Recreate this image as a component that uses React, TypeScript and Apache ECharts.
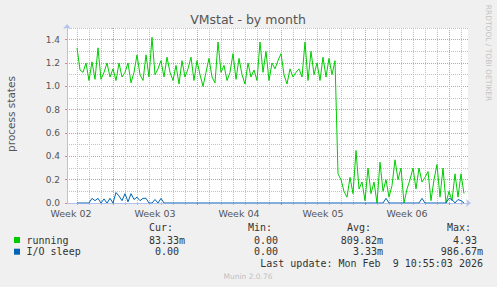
import React, { useEffect, useRef } from 'react';
import * as echarts from 'echarts';

// time axis: days, 0 = start of a week (Monday line)
const startDay = -3;
const stepDay = 0.25;
const xMin = -23 / 6;
const xMax = 355 / 12;

const weekLabels = ['Week 02', 'Week 03', 'Week 04', 'Week 05', 'Week 06'];

const running = [
  1.33, 1.14, 1.12, 1.2, 1.05, 1.21, 1.06, 1.33, 1.06, 1.12,
  1.2, 1.08, 1.15, 1.05, 1.2, 1.08, 1.12, 1.2, 1.03, 1.12,
  1.27, 1.1, 1.05, 1.27, 1.08, 1.42, 1.1, 1.15, 1.22, 1.08,
  1.25, 1.12, 1.05, 1.18, 1.02, 1.22, 1.08, 1.15, 1.25, 1.05,
  1.22, 1.1, 1.0, 1.12, 1.24, 1.08, 1.03, 1.38, 1.12, 1.18,
  1.05, 1.12, 1.28, 1.06, 1.24, 1.1, 1.02, 1.2, 1.08, 1.14,
  1.05, 1.38, 1.12, 1.3, 1.05, 1.2, 1.15, 1.22, 1.28, 1.1,
  1.02, 1.15, 1.08, 1.12, 1.15, 1.08, 1.38, 1.05, 1.3, 1.1,
  1.2, 1.05, 1.25, 1.08, 1.24, 1.1, 1.22, 0.25, 0.2, 0.1,
  0.05, 0.22, 0.08, 0.45, 0.12, 0.18, 0.02, 0.3, 0.08, 0.18,
  0.0, 0.35, 0.1, 0.2, 0.05, 0.15, 0.37, 0.2, 0.3, 0.0,
  0.12, 0.2, 0.3, 0.12, 0.3, 0.18, 0.22, 0.27, 0.02, 0.2,
  0.33, 0.05, 0.3, 0.0, 0.1, 0.02, 0.25, 0.05, 0.25, 0.08,
];

const ioSleep = [
  0, 0, 0, 0, 0, 0.04, 0.02, 0.04, 0, 0.035,
  0, 0.04, 0, 0.09, 0.06, 0.02, 0.08, 0.01, 0.08, 0.03,
  0.05, 0.02, 0.04, 0.04, 0, 0, 0.03, 0, 0.04, 0,
  0, 0, 0, 0, 0, 0, 0, 0, 0, 0,
  0, 0, 0, 0, 0, 0, 0, 0, 0, 0,
  0, 0, 0, 0, 0, 0, 0, 0, 0, 0,
  0, 0, 0, 0, 0, 0, 0, 0, 0, 0,
  0, 0, 0, 0, 0, 0, 0, 0, 0, 0,
  0, 0, 0, 0, 0, 0, 0, 0, 0, 0,
  0, 0, 0, 0, 0, 0, 0, 0, 0, 0,
  0, 0, 0, 0.04, 0, 0, 0, 0, 0, 0,
  0, 0, 0, 0, 0, 0.04, 0, 0, 0, 0,
  0, 0, 0, 0, 0.04, 0.03, 0, 0.03, 0.02, 0,
];

const legendHeaders = ['Cur:', 'Min:', 'Avg:', 'Max:'];
const runningStats = ['83.33m', '0.00', '809.82m', '4.93'];
const ioSleepStats = ['0.00', '0.00', '3.33m', '986.67m'];
const seriesNames = ['running', 'I/O sleep'];
const seriesColors = ['#00cc00', '#0066b3'];
const lastUpdate = 'Last update: Mon Feb  9 10:55:03 2026';

const SANS = '"DejaVu Sans", sans-serif';
const MONO = '"DejaVu Sans Mono", monospace';
const GRAY_GRID = '#c2c2c2';
const RED_GRID = '#e49494';
const AXIS = '#b4c0ee';

function txt(text: string, x: number, y: number, font: string, fill: string, align = 'left', rotation = 0) {
  return {
    type: 'text',
    x,
    y,
    rotation,
    silent: true,
    style: {
      text,
      font,
      fill,
      textAlign: align,
      align,
      textVerticalAlign: 'middle',
      verticalAlign: 'middle',
    },
  };
}

export default function App() {
  const ref = useRef<HTMLDivElement>(null);
  useEffect(() => {
    if (!ref.current) return;
    const chart = echarts.init(ref.current, null, { renderer: 'svg' });
    const toPoints = (arr: number[]) => arr.map((v, i) => [startDay + i * stepDay, v]);
    const colEdges = [179, 278, 377, 477];
    const statTexts: any[] = [];
    const rowsY = [240, 251.7];
    [runningStats, ioSleepStats].forEach((row, r) => {
      row.forEach((v, c) => {
        const hasUnit = /[a-zA-Z]$/.test(v);
        statTexts.push(txt(v, colEdges[c] + (hasUnit ? 6 : 0), rowsY[r], '10px ' + MONO, '#333', 'right'));
      });
      statTexts.push({
        type: 'rect',
        silent: true,
        shape: { x: 14, y: rowsY[r] - 3, width: 6, height: 6 },
        style: { fill: seriesColors[r] },
      });
      statTexts.push(txt(seriesNames[r], 26.5, rowsY[r], '10px ' + MONO, '#333'));
    });
    legendHeaders.forEach((h, c) => {
      statTexts.push(txt(h, colEdges[c] - 6, 227.3, '10px ' + MONO, '#333', 'right'));
    });

    const hiddenY = (gi: number) => ({
      type: 'value', gridIndex: gi, min: 0, max: 1.5, show: false,
    });
    const gridBox = { top: 28, height: 175 };

    chart.setOption({
      animation: false,
      backgroundColor: '#f0f0f0',
      grid: [
        { left: 67, width: 401, ...gridBox, show: true, backgroundColor: '#ffffff', borderWidth: 0 },
        { left: 77, width: 384, ...gridBox },
        { left: 113, width: 336, ...gridBox },
        { left: 71, width: 336, ...gridBox },
      ],
      xAxis: [
        {
          type: 'value', gridIndex: 0, min: xMin, max: xMax,
          axisLine: { show: true, onZero: false, lineStyle: { color: AXIS, width: 1 }, symbol: ['none', 'arrow'], symbolSize: [6, 5], symbolOffset: [0, 3] },
          axisTick: { show: false }, axisLabel: { show: false }, splitLine: { show: false },
        },
        {
          type: 'value', gridIndex: 1, min: 0, max: 32, interval: 1,
          axisLine: { show: false }, axisLabel: { show: false },
          axisTick: { show: true, length: 2, lineStyle: { color: '#bbbbbb' } },
          splitLine: { show: true, lineStyle: { color: GRAY_GRID, type: [1, 1], width: 1 } },
        },
        {
          type: 'value', gridIndex: 2, min: 0, max: 28, interval: 7,
          axisLine: { show: false }, axisLabel: { show: false },
          axisTick: { show: true, length: 2, lineStyle: { color: '#e88080' } },
          splitLine: { show: true, lineStyle: { color: RED_GRID, type: [1, 1], width: 1 } },
        },
        {
          type: 'value', gridIndex: 3, min: 0, max: 28, interval: 7,
          axisLine: { show: false }, axisTick: { show: false }, splitLine: { show: false },
          axisLabel: {
            show: true, margin: 5.5, color: '#555', fontFamily: 'DejaVu Sans', fontSize: 9.5,
            formatter: (v: number) => weekLabels[Math.round(v / 7)] || '',
          },
        },
      ],
      yAxis: [
        {
          type: 'value', gridIndex: 0, position: 'left', min: 0, max: 1.5, interval: 0.1,
          axisLine: { show: false }, axisLabel: { show: false },
          axisTick: { show: true, length: 2, lineStyle: { color: '#bbbbbb' } },
          splitLine: { show: true, lineStyle: { color: GRAY_GRID, type: [1, 1], width: 1 } },
        },
        {
          type: 'value', gridIndex: 0, position: 'left', min: 0, max: 1.5, interval: 0.2,
          axisLine: { show: true, onZero: false, lineStyle: { color: AXIS, width: 1 }, symbol: ['none', 'arrow'], symbolSize: [6, 5], symbolOffset: [0, 4] },
          axisTick: { show: true, length: 2, lineStyle: { color: '#e88080' }, },
          axisLabel: {
            show: true, margin: 7, color: '#555', fontFamily: 'DejaVu Sans', fontSize: 9,
            showMaxLabel: false,
            formatter: (v: number) => v.toFixed(1),
          },
          splitLine: { show: true, showMaxLine: false, lineStyle: { color: RED_GRID, type: [1, 1], width: 1 } },
        },
        hiddenY(1),
        hiddenY(2),
        hiddenY(3),
      ],
      series: [
        {
          name: seriesNames[0], type: 'line', xAxisIndex: 0, yAxisIndex: 1,
          data: toPoints(running), showSymbol: false, symbol: 'none',
          lineStyle: { color: seriesColors[0], width: 1 }, z: 3,
        },
        {
          name: seriesNames[1], type: 'line', xAxisIndex: 0, yAxisIndex: 1,
          data: toPoints(ioSleep), showSymbol: false, symbol: 'none',
          lineStyle: { color: seriesColors[1], width: 1 }, z: 4,
        },
      ],
      graphic: [
        txt('VMstat - by month', 248, 19, '12.5px ' + SANS, '#555', 'center'),
        txt('process states', 11, 114, '10.5px ' + SANS, '#555', 'center', Math.PI / 2),
        txt('RRDTOOL / TOBI OETIKER', 488, 53, '7.5px ' + SANS, '#c4c4c4', 'center', -Math.PI / 2),
        ...statTexts,
        txt(lastUpdate, 483, 263.7, '10px ' + MONO, '#333', 'right'),
        txt('Munin 2.0.76', 248, 276.5, '7.5px ' + SANS, '#c0c0c0', 'center'),
      ],
    });
    return () => chart.dispose();
  }, []);
  return <div ref={ref} style={{ position: 'fixed', left: 0, top: 0, width: 497, height: 287 }} />;
}
